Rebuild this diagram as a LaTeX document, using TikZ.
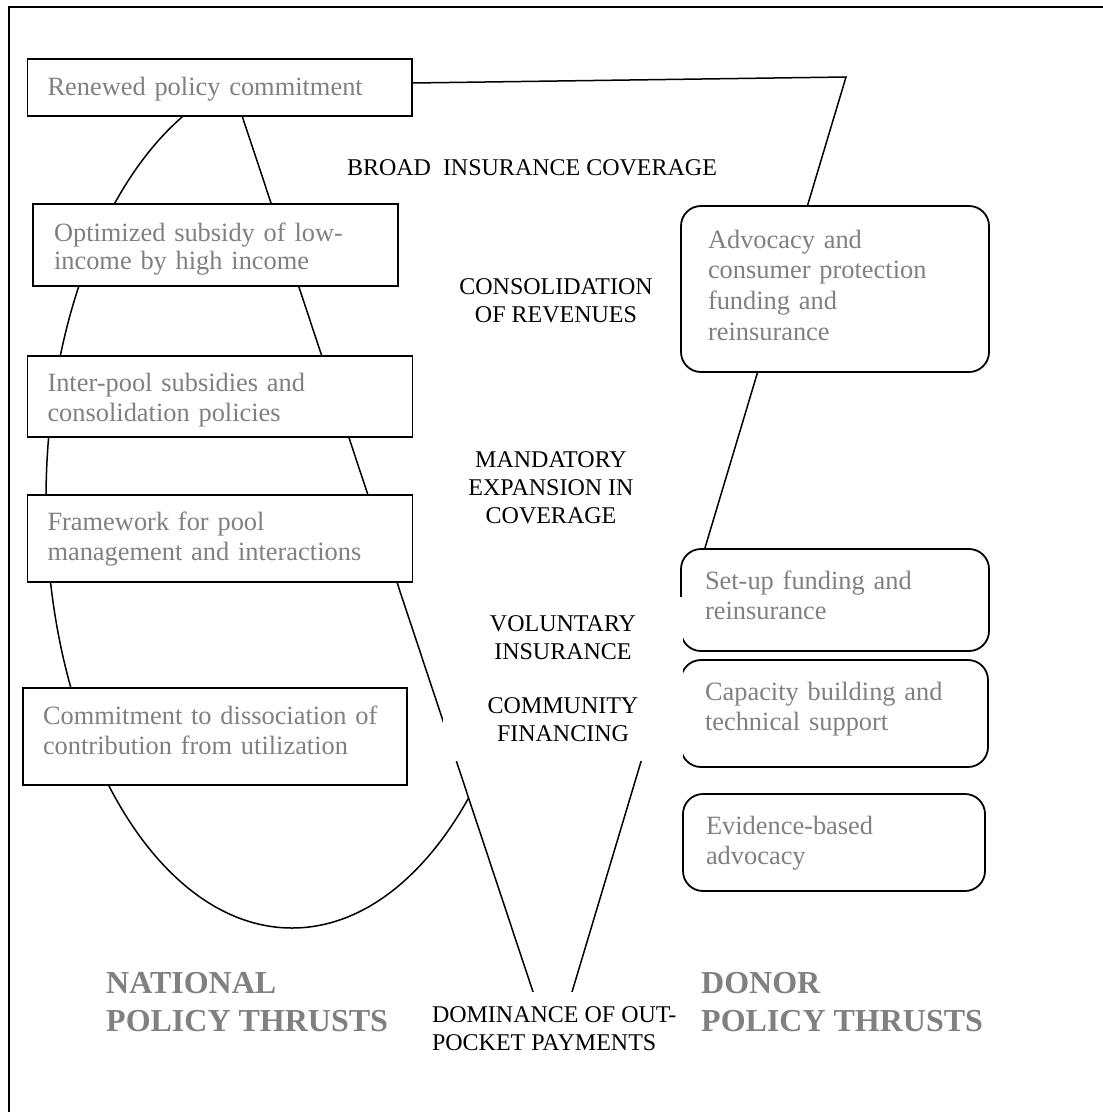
\documentclass[tikz,border=0pt]{standalone}
\usepackage{fontspec}
\setmainfont{Liberation Serif}
\usetikzlibrary{shapes.geometric}
\definecolor{greytxt}{RGB}{128,128,128}
\begin{document}
\begin{tikzpicture}[x=1pt,y=-1pt,
  sqbox/.style={draw, line width=1.8pt, fill=white, rectangle, anchor=north west, outer sep=0pt,
    align=left, inner ysep=0pt, font=\fontsize{26.4}{30.5}\selectfont, text=greytxt},
  rdbox/.style={sqbox, rounded corners=20pt},
  lbl/.style={font=\fontsize{24}{28}\selectfont, text=black, inner sep=0pt, outer sep=0pt, align=center},
  big/.style={font=\fontsize{32}{38}\selectfont\bfseries, text=greytxt, inner sep=0pt, align=left},
  ln/.style={line width=1.5pt}]

\useasboundingbox (0,0) rectangle (1103,1112);
\draw[line width=2pt] (9,1112) -- (9,7) -- (1103,7);

% oval of national policy thrusts
\node[draw, ln, ellipse, minimum width=492pt, minimum height=856pt, inner sep=0pt, outer sep=0pt] (oval) at (292,500) {};

% funnel
\coordinate (ftl) at (232,85.5);
\coordinate (ftr) at (846,77);
\coordinate (fbr) at (569.6,1000);
\coordinate (fbl) at (535.7,1000);
\draw[ln, fill=white] (ftl) -- (ftr) -- (fbr) -- (fbl) -- cycle;

% national boxes
\node[sqbox, inner xsep=20pt, text width=344.5pt, text height=36pt, text depth=21pt] (renew) at (27.5,59) {Renewed policy commitment};
\node[sqbox, inner xsep=21pt, text width=323pt, text height=37pt, text depth=45pt, font=\fontsize{26.4}{28.6}\selectfont] (optim) at (33,204) {Optimized subsidy of low-\\income by high income};
\node[sqbox, inner xsep=20pt, text width=345pt, text height=35pt, text depth=46pt] (inter) at (27.5,356) {Inter-pool subsidies and\\consolidation policies};
\node[sqbox, inner xsep=20pt, text width=345pt, text height=35pt, text depth=52pt] (frame) at (27.5,495) {Framework for pool\\management and interactions};
\node[sqbox, inner xsep=20pt, text width=344pt, text height=36pt, text depth=61pt] (commit) at (23,688) {Commitment to dissociation of\\contribution from utilization};

% donor boxes
\node[rdbox, inner xsep=27pt, text width=254pt, text height=42pt, text depth=124pt, font=\fontsize{26.4}{30.7}\selectfont] (advoc) at (681,206) {Advocacy and\\consumer protection\\funding and\\reinsurance};
\node[rdbox, inner xsep=24pt, text width=260pt, text height=40pt, text depth=62pt] (setup) at (681,549) {Set-up funding and\\reinsurance};
\node[rdbox, inner xsep=24pt, text width=259pt, text height=40pt, text depth=67pt] (capac) at (681,660) {Capacity building and\\technical support};
\node[rdbox, inner xsep=23pt, text width=256pt, text height=40pt, text depth=57pt] (evid) at (683,794) {Evidence-based\\advocacy};

% stage labels
\node[lbl, anchor=base west] (broad) at (347,175) {BROAD\ \ INSURANCE COVERAGE};
\node[lbl] (cons) at (556,301) {CONSOLIDATION\\OF REVENUES};
\node[lbl] (mand) at (551,488) {MANDATORY\\EXPANSION IN\\COVERAGE};
\node[lbl, fill=white, minimum width=240pt, minimum height=82pt, anchor=north] (vol) at (563,597) {VOLUNTARY\\INSURANCE};
\node[lbl, fill=white, minimum width=240pt, minimum height=82pt, anchor=north] (comm) at (563,679) {COMMUNITY\\FINANCING};
\node[lbl, fill=white, align=left, anchor=north west, inner xsep=7pt, inner ysep=15pt] (dom) at (425,992) {DOMINANCE OF OUT-\\POCKET PAYMENTS};

% titles
\node[big, anchor=west] (nat) at (106,1002.5) {NATIONAL\\POLICY THRUSTS};
\node[big, anchor=west] (don) at (701,1002.5) {DONOR\\POLICY THRUSTS};
\end{tikzpicture}
\end{document}
